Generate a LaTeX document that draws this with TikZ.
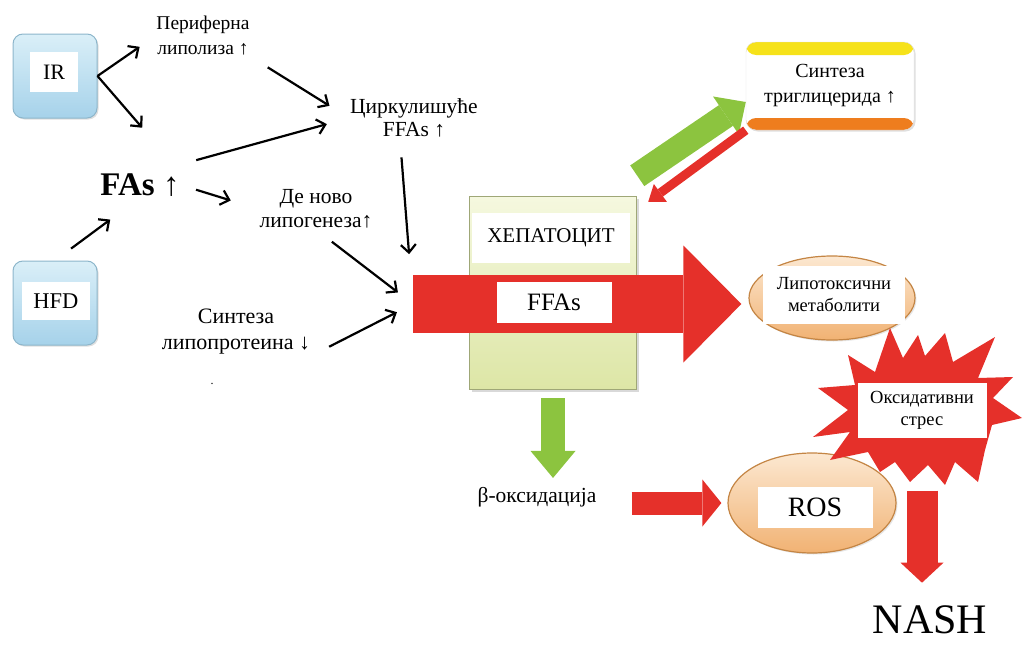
\documentclass[tikz,border=0pt]{standalone}
\usepackage{fontspec}
\setmainfont{Liberation Serif}
\usetikzlibrary{positioning,arrows.meta,shapes.geometric,calc,shadows}

\definecolor{arrred}{HTML}{E5302A}
\definecolor{arrgreen}{HTML}{8CC43F}
\definecolor{blueTop}{HTML}{DAEFF8}
\definecolor{blueBot}{HTML}{A6D2EA}
\definecolor{blueEdge}{HTML}{8DB6CB}
\definecolor{peachTop}{HTML}{FCE8D1}
\definecolor{peachBot}{HTML}{F1B273}
\definecolor{peachEdge}{HTML}{C48544}
\definecolor{hepTop}{HTML}{F5F8DF}
\definecolor{hepBot}{HTML}{DDE6A6}
\definecolor{hepEdge}{HTML}{9FA777}
\definecolor{trigYellow}{HTML}{F6E21A}
\definecolor{trigOrange}{HTML}{EE7D1E}

\begin{document}
\begin{tikzpicture}[x=1pt, y=-1pt,
    lbl/.style = {align=center, inner sep=1pt},
    wlbl/.style = {fill=white, inner sep=0pt, align=center},
    irbox/.style = {rectangle, rounded corners=10pt, draw=blueEdge, line width=1pt,
                    top color=blueTop, bottom color=blueBot,
                    minimum width=84pt, minimum height=84pt,
                    drop shadow={opacity=0.25, shadow xshift=1.5pt, shadow yshift=-1.5pt}},
    peach/.style = {ellipse, draw=peachEdge, line width=1.2pt,
                    top color=peachTop, bottom color=peachBot, inner sep=0pt,
                    drop shadow={opacity=0.2, shadow xshift=1.5pt, shadow yshift=-1.5pt}},
    thin/.style = {line width=2.2pt, -{Straight Barb[length=8pt,width=15pt]}},
    fat/.style = {line width=#1, line cap=butt}
]
\useasboundingbox (0,0) rectangle (1023,645);

% --- Left: causes ---
\node[irbox] (ir) at (55,76) {};
\node[wlbl, minimum width=48pt, minimum height=40pt, font=\fontsize{22}{24}\selectfont] (irlbl) at (54,72) {IR};
\node[irbox] (hfd) at (55,303) {};
\node[wlbl, minimum width=68pt, minimum height=38pt, font=\fontsize{22.5}{24}\selectfont] (hfdlbl) at (56,301) {HFD};

\node[lbl, font=\fontsize{19.5}{25}\selectfont] (perif) at (203,36) {Периферна\\липолиза ↑};
\node[lbl, font=\fontsize{21.5}{23}\selectfont] (cirk) at (414,118) {Циркулишуће\\FFAs ↑};
\node[lbl, font=\fontsize{33}{35}\selectfont\bfseries] (fas) at (140,185) {FAs ↑};
\node[lbl, font=\fontsize{21.5}{24}\selectfont] (denovo) at (316,209) {Де ново\\липогенеза↑};
\node[lbl, font=\fontsize{22}{26}\selectfont] (sintlp) at (236,332) {Синтеза\\липопротеина ↓};
\node[lbl, font=\fontsize{12}{12}\selectfont] (dot) at (212,384) {.};

% --- Hepatocyte and the FFA flow ---
\node[rectangle, draw=hepEdge, line width=1.5pt, top color=hepTop, bottom color=hepBot,
      minimum width=167pt, minimum height=193pt,
      drop shadow={opacity=0.3, shadow xshift=2pt, shadow yshift=-2pt}] (hep) at (553,293) {};
\node[wlbl, minimum width=158pt, minimum height=50pt, font=\fontsize{21}{23}\selectfont] (heplbl) at (551,238) {ХЕПАТОЦИТ};

\node[rectangle, rounded corners=10pt, fill=white, draw=black!12, minimum width=168pt, minimum height=88pt,
      font=\fontsize{20}{25}\selectfont, align=center,
      drop shadow={opacity=0.25, shadow xshift=1.5pt, shadow yshift=-1.5pt},
      path picture={
        \fill[trigYellow] (path picture bounding box.north west) rectangle ([yshift=-13pt]path picture bounding box.north east);
        \fill[trigOrange] ([yshift=12pt]path picture bounding box.south west) rectangle (path picture bounding box.south east);
      }] (trig) at (830,86) {Синтеза\\триглицерида ↑};

\node[peach, minimum width=166pt, minimum height=84pt] (lip) at (832,298) {};
\node[wlbl, minimum width=142pt, minimum height=58pt, font=\fontsize{18.5}{22}\selectfont] (liplbl) at (834,295) {Липотоксични\\метаболити};

\node[peach, minimum width=168pt, minimum height=100pt] (ros) at (812,503) {};

% --- Oxidative stress burst ---
\fill[arrred] plot coordinates {
  (848,355) (875,372) (890,328) (903,358) (918,335) (925,356) (945,333) (953,362)
  (995,337) (978,378) (1013,377) (993,398) (1022,418) (992,425) (985,450) (978,482)
  (955,462) (945,485) (928,465) (910,482) (895,462) (880,472) (868,452) (830,460)
  (850,432) (813,437) (848,410) (818,388) (855,385)} -- cycle;
\node[wlbl, minimum width=129pt, minimum height=55pt, font=\fontsize{18.5}{22}\selectfont] (oks) at (922,410) {Оксидативни\\стрес};
\node[wlbl, minimum width=115pt, minimum height=41pt, font=\fontsize{28}{30}\selectfont] (roslbl) at (815,507) {ROS};

\node[lbl, font=\fontsize{21.5}{24}\selectfont] (beta) at (537,497) {β-оксидација};
\node[lbl, font=\fontsize{42}{44}\selectfont] (nash) at (930,620) {NASH};

% --- Big FFA arrow through the cell ---
\coordinate (tail) at (413,304);
\draw[fat=58pt, arrred, -{Triangle[length=58pt,width=117pt,line width=0pt]}, shorten >=7pt] (tail) -- (tail -| lip.west);
\node[wlbl, minimum width=115pt, minimum height=41pt, font=\fontsize{25}{27}\selectfont] (ffa) at (554,302) {FFAs};

% --- Black arrows ---
\draw[thin, shorten >=19pt] (ir.east) -- (perif.west);
\draw[thin, shorten >=59pt] (ir.east) -- (fas.north east);
\draw[thin, shorten <=20pt, shorten >=23pt] (perif.south east) -- (cirk.west);
\draw[thin, shorten <=16pt, shorten >=23pt] ([yshift=8pt]fas.north east) -- (cirk.west);
\draw[thin, shorten <=16pt, shorten >=29pt] (fas.east) -- (denovo.west);
\draw[thin, shorten <=20pt, shorten >=37pt] (hfd.north) -- (fas.south);
\draw[thin, shorten <=19pt, shorten >=50pt] ([xshift=-14pt]cirk.south) -- (tail);
\draw[thin, shorten <=20pt, shorten >=19pt] (denovo.south) -- (tail);
\draw[thin, shorten <=20pt, shorten >=18pt] (sintlp.south east) -- (tail);

% --- Block arrows ---
\draw[fat=25pt, arrgreen, -{Triangle[length=24pt,width=46pt,line width=0pt]}] ([yshift=20pt]hep.north east) -- ([yshift=-16pt]trig.west);
\draw[fat=9pt, arrred, -{Triangle[length=15pt,width=22pt,line width=0pt]}] (trig.south west) -- ([xshift=11pt,yshift=-6pt]hep.north east);
\draw[fat=24pt, arrgreen, -{Triangle[length=27pt,width=45pt,line width=0pt]}, shorten <=8pt, shorten >=8pt] (hep.south) -- (hep.south |- beta.north);
\draw[fat=23pt, arrred, -{Triangle[length=19pt,width=47pt,line width=0pt]}, shorten <=34pt, shorten >=6pt] (beta.east |- ros.west) -- (ros.west);
\draw[fat=31pt, arrred, -{Triangle[length=20pt,width=43pt,line width=0pt]}, shorten <=53pt, shorten >=22pt] (oks.south) -- (oks.south |- nash.north);

\end{tikzpicture}
\end{document}
